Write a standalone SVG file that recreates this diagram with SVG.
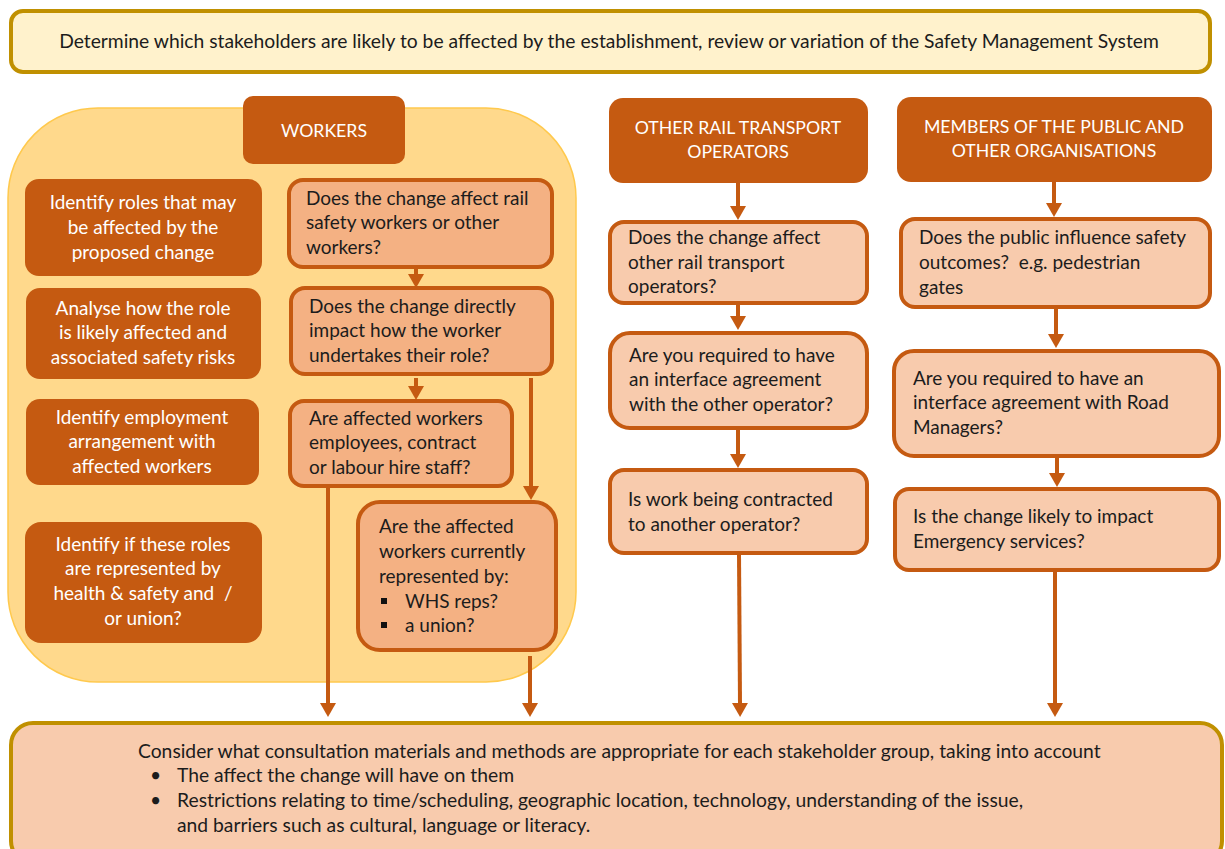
<svg xmlns="http://www.w3.org/2000/svg" width="1225" height="849" viewBox="0 0 1225 849">
<style>
text{font-family:Lato,"Open Sans","Liberation Sans",sans-serif;font-size:19px;fill:#1c1c1c}
.w{fill:#ffffff;text-anchor:middle}
.h{font-size:17.7px}
.big{font-size:19.3px}
.c{text-anchor:middle}
.dark{fill:#C55A11}
.q1{fill:#F4B183;stroke:#C55A11;stroke-width:4}
.q2{fill:#F8CBAD;stroke:#C55A11;stroke-width:4}
.ar{stroke:#C55A11;stroke-width:4;fill:none;marker-end:url(#ah)}
</style>
<defs>
<marker id="ah" markerUnits="userSpaceOnUse" viewBox="0 0 14 16" markerWidth="14" markerHeight="16" refX="2" refY="8" orient="auto">
<path d="M0,0 L14,8 L0,16 Z" fill="#C55A11"/>
</marker>
</defs>
<rect width="1225" height="849" fill="#ffffff"/>

<g id="top">
<rect x="11" y="11" width="1199" height="61" rx="12" fill="#FFF2CC" stroke="#C09000" stroke-width="4"/>
<text x="609" y="48" class="c big">Determine which stakeholders are likely to be affected by the establishment, review or variation of the Safety Management System</text>
</g>

<g id="workers-area">
<rect x="8" y="108" width="568" height="574" rx="90" fill="#FFD98C" stroke="#FFC94D" stroke-width="1.5"/>
</g>

<g id="workers">
<rect x="243" y="96" width="162" height="68" rx="10" class="dark"/>
<text x="324" y="137" class="w h">WORKERS</text>
</g>

<g id="identify-roles">
<rect x="25" y="179" width="237" height="97" rx="14" class="dark"/>
<text class="w"><tspan x="143" y="209">Identify roles that may</tspan><tspan x="143" y="234">be affected by the</tspan><tspan x="143" y="259">proposed change</tspan></text>
</g>
<g id="analyse-role">
<rect x="26" y="288" width="235" height="91" rx="14" class="dark"/>
<text class="w"><tspan x="143" y="315">Analyse how the role</tspan><tspan x="143" y="339">is likely affected and</tspan><tspan x="143" y="364">associated safety risks</tspan></text>
</g>
<g id="identify-employment">
<rect x="26" y="399" width="233" height="86" rx="14" class="dark"/>
<text class="w"><tspan x="142" y="424">Identify employment</tspan><tspan x="142" y="448">arrangement with</tspan><tspan x="142" y="473">affected workers</tspan></text>
</g>
<g id="identify-represented">
<rect x="25" y="522" width="237" height="121" rx="16" class="dark"/>
<text class="w"><tspan x="143" y="551">Identify if these roles</tspan><tspan x="143" y="575">are represented by</tspan><tspan x="143" y="600">health &amp; safety and &#160;/</tspan><tspan x="143" y="625">or union?</tspan></text>
</g>

<g id="w1">
<rect x="289" y="180" width="263" height="87" rx="14" class="q1"/>
<text><tspan x="306" y="205">Does the change affect rail</tspan><tspan x="306" y="229">safety workers or other</tspan><tspan x="306" y="254">workers?</tspan></text>
</g>
<g id="w2">
<rect x="291" y="288" width="261" height="86" rx="14" class="q1"/>
<text><tspan x="309" y="313">Does the change directly</tspan><tspan x="309" y="337">impact how the worker</tspan><tspan x="309" y="362">undertakes their role?</tspan></text>
</g>
<g id="w3">
<rect x="290" y="401" width="222" height="85" rx="14" class="q1"/>
<text><tspan x="309" y="425">Are affected workers</tspan><tspan x="309" y="449">employees, contract</tspan><tspan x="309" y="474">or labour hire staff?</tspan></text>
</g>
<g id="w4">
<rect x="358" y="502" width="198" height="148" rx="22" class="q1"/>
<text><tspan x="379" y="533">Are the affected</tspan><tspan x="379" y="558">workers currently</tspan><tspan x="379" y="583">represented by:</tspan><tspan x="405" y="608">WHS reps?</tspan><tspan x="405" y="632">a union?</tspan></text>
<rect x="381" y="598" width="6" height="6" fill="#111"/>
<rect x="381" y="622" width="6" height="6" fill="#111"/>
</g>

<g id="rail">
<rect x="609" y="98" width="259" height="85" rx="14" class="dark"/>
<text class="w h"><tspan x="738" y="134">OTHER RAIL TRANSPORT</tspan><tspan x="738" y="158">OPERATORS</tspan></text>
</g>
<g id="m1">
<rect x="610" y="222" width="257" height="81" rx="14" class="q2"/>
<text><tspan x="628" y="244">Does the change affect</tspan><tspan x="628" y="269">other rail transport</tspan><tspan x="628" y="293">operators?</tspan></text>
</g>
<g id="m2">
<rect x="610" y="333" width="257" height="95" rx="20" class="q2"/>
<text><tspan x="629" y="362">Are you required to have</tspan><tspan x="629" y="386">an interface agreement</tspan><tspan x="629" y="411">with the other operator?</tspan></text>
</g>
<g id="m3">
<rect x="610" y="470" width="257" height="83" rx="14" class="q2"/>
<text><tspan x="628" y="506">Is work being contracted</tspan><tspan x="628" y="531">to another operator?</tspan></text>
</g>

<g id="public">
<rect x="897" y="97" width="315" height="85" rx="14" class="dark"/>
<text class="w h"><tspan x="1054" y="133">MEMBERS OF THE PUBLIC AND</tspan><tspan x="1054" y="157">OTHER ORGANISATIONS</tspan></text>
</g>
<g id="r1">
<rect x="901" y="219" width="309" height="88" rx="14" class="q2"/>
<text><tspan x="919" y="244">Does the public influence safety</tspan><tspan x="919" y="269">outcomes? &#160;e.g. pedestrian</tspan><tspan x="919" y="294">gates</tspan></text>
</g>
<g id="r2">
<rect x="894" y="351" width="325" height="105" rx="20" class="q2"/>
<text><tspan x="913" y="385">Are you required to have an</tspan><tspan x="913" y="409">interface agreement with Road</tspan><tspan x="913" y="434">Managers?</tspan></text>
</g>
<g id="r3">
<rect x="895" y="489" width="324" height="81" rx="14" class="q2"/>
<text><tspan x="913" y="523">Is the change likely to impact</tspan><tspan x="913" y="548">Emergency services?</tspan></text>
</g>

<g id="consider">
<rect x="11" y="723" width="1211" height="140" rx="22" fill="#F8CBAD" stroke="#C09000" stroke-width="4"/>
<text class="big"><tspan x="138" y="758">Consider what consultation materials and methods are appropriate for each stakeholder group, taking into account</tspan><tspan x="150" y="782">•</tspan><tspan x="177" y="782">The affect the change will have on them</tspan><tspan x="150" y="807">•</tspan><tspan x="177" y="807">Restrictions relating to time/scheduling, geographic location, technology, understanding of the issue,</tspan><tspan x="177" y="832">and barriers such as cultural, language or literacy.</tspan></text>
</g>

<g id="connectors">
<line x1="416" y1="267" x2="416" y2="276" class="ar"/>
<line x1="416" y1="378" x2="416" y2="388" class="ar"/>
<line x1="531" y1="378" x2="531" y2="488" class="ar"/>
<line x1="328" y1="488" x2="328" y2="705" class="ar"/>
<line x1="530" y1="656" x2="530" y2="705" class="ar"/>
<line x1="738" y1="183" x2="738" y2="208" class="ar"/>
<line x1="738" y1="303" x2="738" y2="318" class="ar"/>
<line x1="738" y1="428" x2="738" y2="456" class="ar"/>
<line x1="739" y1="553" x2="740" y2="705" class="ar"/>
<line x1="1054" y1="182" x2="1054" y2="205" class="ar"/>
<line x1="1056" y1="307" x2="1056" y2="336" class="ar"/>
<line x1="1057" y1="457" x2="1057" y2="475" class="ar"/>
<line x1="1055" y1="570" x2="1055" y2="705" class="ar"/>
</g>
</svg>
